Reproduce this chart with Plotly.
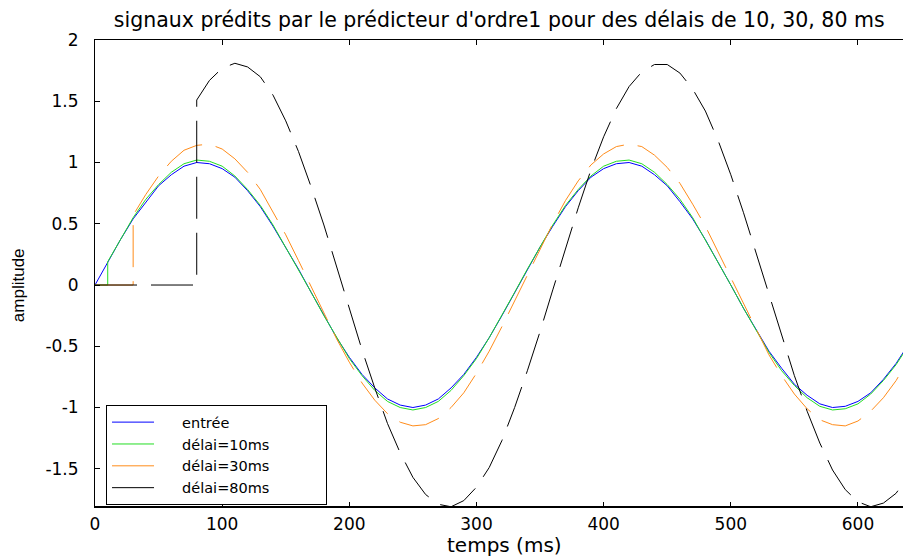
import plotly.graph_objects as go

# temps en ms
temps_ms = [0, 10, 20, 30, 40, 50, 60, 70, 80, 90, 100, 110, 120, 130, 140, 150, 160,
            170, 180, 190, 200, 210, 220, 230, 240, 250, 260, 270, 280, 290, 300, 310,
            320, 330, 340, 350, 360, 370, 380, 390, 400, 410, 420, 430, 440, 450, 460,
            470, 480, 490, 500, 510, 520, 530, 540, 550, 560, 570, 580, 590, 600, 610,
            620, 630, 640]

entree = [0.00, 0.19, 0.37, 0.54, 0.68, 0.81, 0.90, 0.97, 1.00, 0.99, 0.95, 0.88, 0.77,
          0.64, 0.48, 0.31, 0.13, -0.06, -0.25, -0.43, -0.59, -0.73, -0.84, -0.93, -0.98,
          -1.00, -0.98, -0.93, -0.84, -0.73, -0.59, -0.43, -0.25, -0.06, 0.13, 0.31, 0.48,
          0.64, 0.77, 0.88, 0.95, 0.99, 1.00, 0.97, 0.90, 0.81, 0.68, 0.54, 0.37, 0.19,
          0.00, -0.19, -0.37, -0.54, -0.68, -0.81, -0.90, -0.97, -1.00, -0.99, -0.95,
          -0.88, -0.77, -0.64, -0.48]

# sorties du predicteur, a partir de t = delai (0 avant)
delai_10 = [0.19, 0.37, 0.55, 0.70, 0.82, 0.92, 0.99, 1.02, 1.01, 0.97, 0.89, 0.78, 0.65,
            0.49, 0.31, 0.13, -0.06, -0.25, -0.43, -0.60, -0.74, -0.86, -0.95, -1.00,
            -1.02, -1.00, -0.95, -0.86, -0.74, -0.60, -0.43, -0.25, -0.06, 0.13, 0.31,
            0.49, 0.65, 0.78, 0.89, 0.97, 1.01, 1.02, 0.99, 0.92, 0.82, 0.70, 0.55, 0.37,
            0.19, 0.00, -0.19, -0.37, -0.55, -0.70, -0.82, -0.92, -0.99, -1.02, -1.01,
            -0.97, -0.89, -0.78, -0.65, -0.49]

delai_30 = [0.57, 0.74, 0.89, 1.01, 1.10, 1.14, 1.15, 1.11, 1.03, 0.92, 0.78, 0.60, 0.41,
            0.20, -0.01, -0.23, -0.44, -0.63, -0.80, -0.94, -1.05, -1.12, -1.15, -1.14,
            -1.09, -1.00, -0.88, -0.72, -0.54, -0.34, -0.13, 0.09, 0.30, 0.50, 0.69, 0.85,
            0.98, 1.07, 1.13, 1.15, 1.13, 1.06, 0.96, 0.83, 0.66, 0.48, 0.27, 0.06, -0.16,
            -0.37, -0.57, -0.74, -0.89, -1.01, -1.10, -1.14, -1.15, -1.11, -1.03, -0.92,
            -0.78, -0.60]

delai_80 = [1.51, 1.67, 1.77, 1.81, 1.78, 1.70, 1.55, 1.34, 1.09, 0.80, 0.49, 0.15, -0.19,
            -0.53, -0.84, -1.13, -1.37, -1.57, -1.71, -1.79, -1.81, -1.76, -1.65, -1.49,
            -1.27, -1.00, -0.70, -0.38, -0.04, 0.30, 0.63, 0.94, 1.21, 1.44, 1.62, 1.74,
            1.80, 1.80, 1.73, 1.60, 1.42, 1.18, 0.90, 0.59, 0.26, -0.08, -0.42, -0.74,
            -1.03, -1.29, -1.51, -1.67, -1.77, -1.81, -1.78, -1.70, -1.55]

noms = ["entrée", "délai=10ms", "délai=30ms", "délai=80ms"]

x_ticks = [0, 100, 200, 300, 400, 500, 600]
y_ticks = [-1.5, -1, -0.5, 0, 0.5, 1, 1.5, 2]
y_ticktext = ["-1.5", "-1", "-0.5", "0", "0.5", "1", "1.5", "2"]

FONT = "DejaVu Sans"
NB = "\u00a0"


def predicted(delay, values):
    # le predicteur sort 0 tant que t < delai, puis saute
    t = [0, delay] + [v for v in temps_ms if v >= delay]
    y = [0, 0] + values
    return t, y


def leg(name):
    # espaces insecables pour elargir la boite de legende comme sous matlab
    return NB * 5 + name + NB * 11


fig = go.Figure()
fig.add_trace(go.Scatter(x=temps_ms, y=entree, mode="lines", name=leg(noms[0]),
                         line=dict(color="#0000ff", width=1)))
t10, y10 = predicted(10, delai_10)
fig.add_trace(go.Scatter(x=t10, y=y10, mode="lines", name=leg(noms[1]),
                         line=dict(color="#22dd22", width=1)))
t30, y30 = predicted(30, delai_30)
fig.add_trace(go.Scatter(x=t30, y=y30, mode="lines", name=leg(noms[2]),
                         line=dict(color="#ff8c1a", width=1, dash="42px,14px")))
t80, y80 = predicted(80, delai_80)
fig.add_trace(go.Scatter(x=t80, y=y80, mode="lines", name=leg(noms[3]),
                         line=dict(color="#000000", width=1, dash="42px,14px")))

# la page html ajoute 8px de marge autour du graphique
fig.update_layout(
    width=903, height=548,
    margin=dict(l=87, r=0, t=32, b=49, autoexpand=False),
    paper_bgcolor="white", plot_bgcolor="white",
    font=dict(family=FONT, size=17, color="black"),
    title=dict(text="signaux prédits par le prédicteur d'ordre1 pour des délais de 10, 30, 80 ms",
               x=0.544, xanchor="center", y=0.978, yanchor="middle",
               font=dict(family=FONT, size=20.5)),
    showlegend=True,
    legend=dict(x=0.0135, y=0.218, xanchor="left", yanchor="top",
                bgcolor="white", bordercolor="black", borderwidth=1,
                font=dict(family=FONT, size=14.5), itemwidth=42,
                tracegroupgap=0),
)
fig.update_xaxes(range=[0, 641.7], tickvals=x_ticks, ticks="inside", ticklen=5,
                 tickcolor="black", showline=True, linecolor="black", linewidth=1,
                 mirror="ticks", showgrid=False, zeroline=False,
                 tickfont=dict(family=FONT, size=17), ticklabelstandoff=2)
fig.update_yaxes(range=[-1.812, 2], tickvals=y_ticks, ticktext=y_ticktext,
                 ticks="inside", ticklen=5, tickcolor="black", showline=True,
                 linecolor="black", linewidth=1, showgrid=False, zeroline=False,
                 tickfont=dict(family=FONT, size=17), ticklabelstandoff=12)
# axe du bas un peu plus epais
fig.add_shape(type="line", xref="paper", yref="paper", x0=0, x1=1, y0=0, y1=0,
              line=dict(color="black", width=2))
fig.add_annotation(text="temps (ms)", xref="paper", yref="paper", x=0.502, y=-0.081,
                   xanchor="center", yanchor="middle", showarrow=False,
                   font=dict(family=FONT, size=20))
fig.add_annotation(text="amplitude", xref="paper", yref="paper", x=-0.0944, y=0.475,
                   xanchor="center", yanchor="middle", showarrow=False, textangle=-90,
                   font=dict(family="Liberation Sans", size=17))

fig.write_html("out.html")
